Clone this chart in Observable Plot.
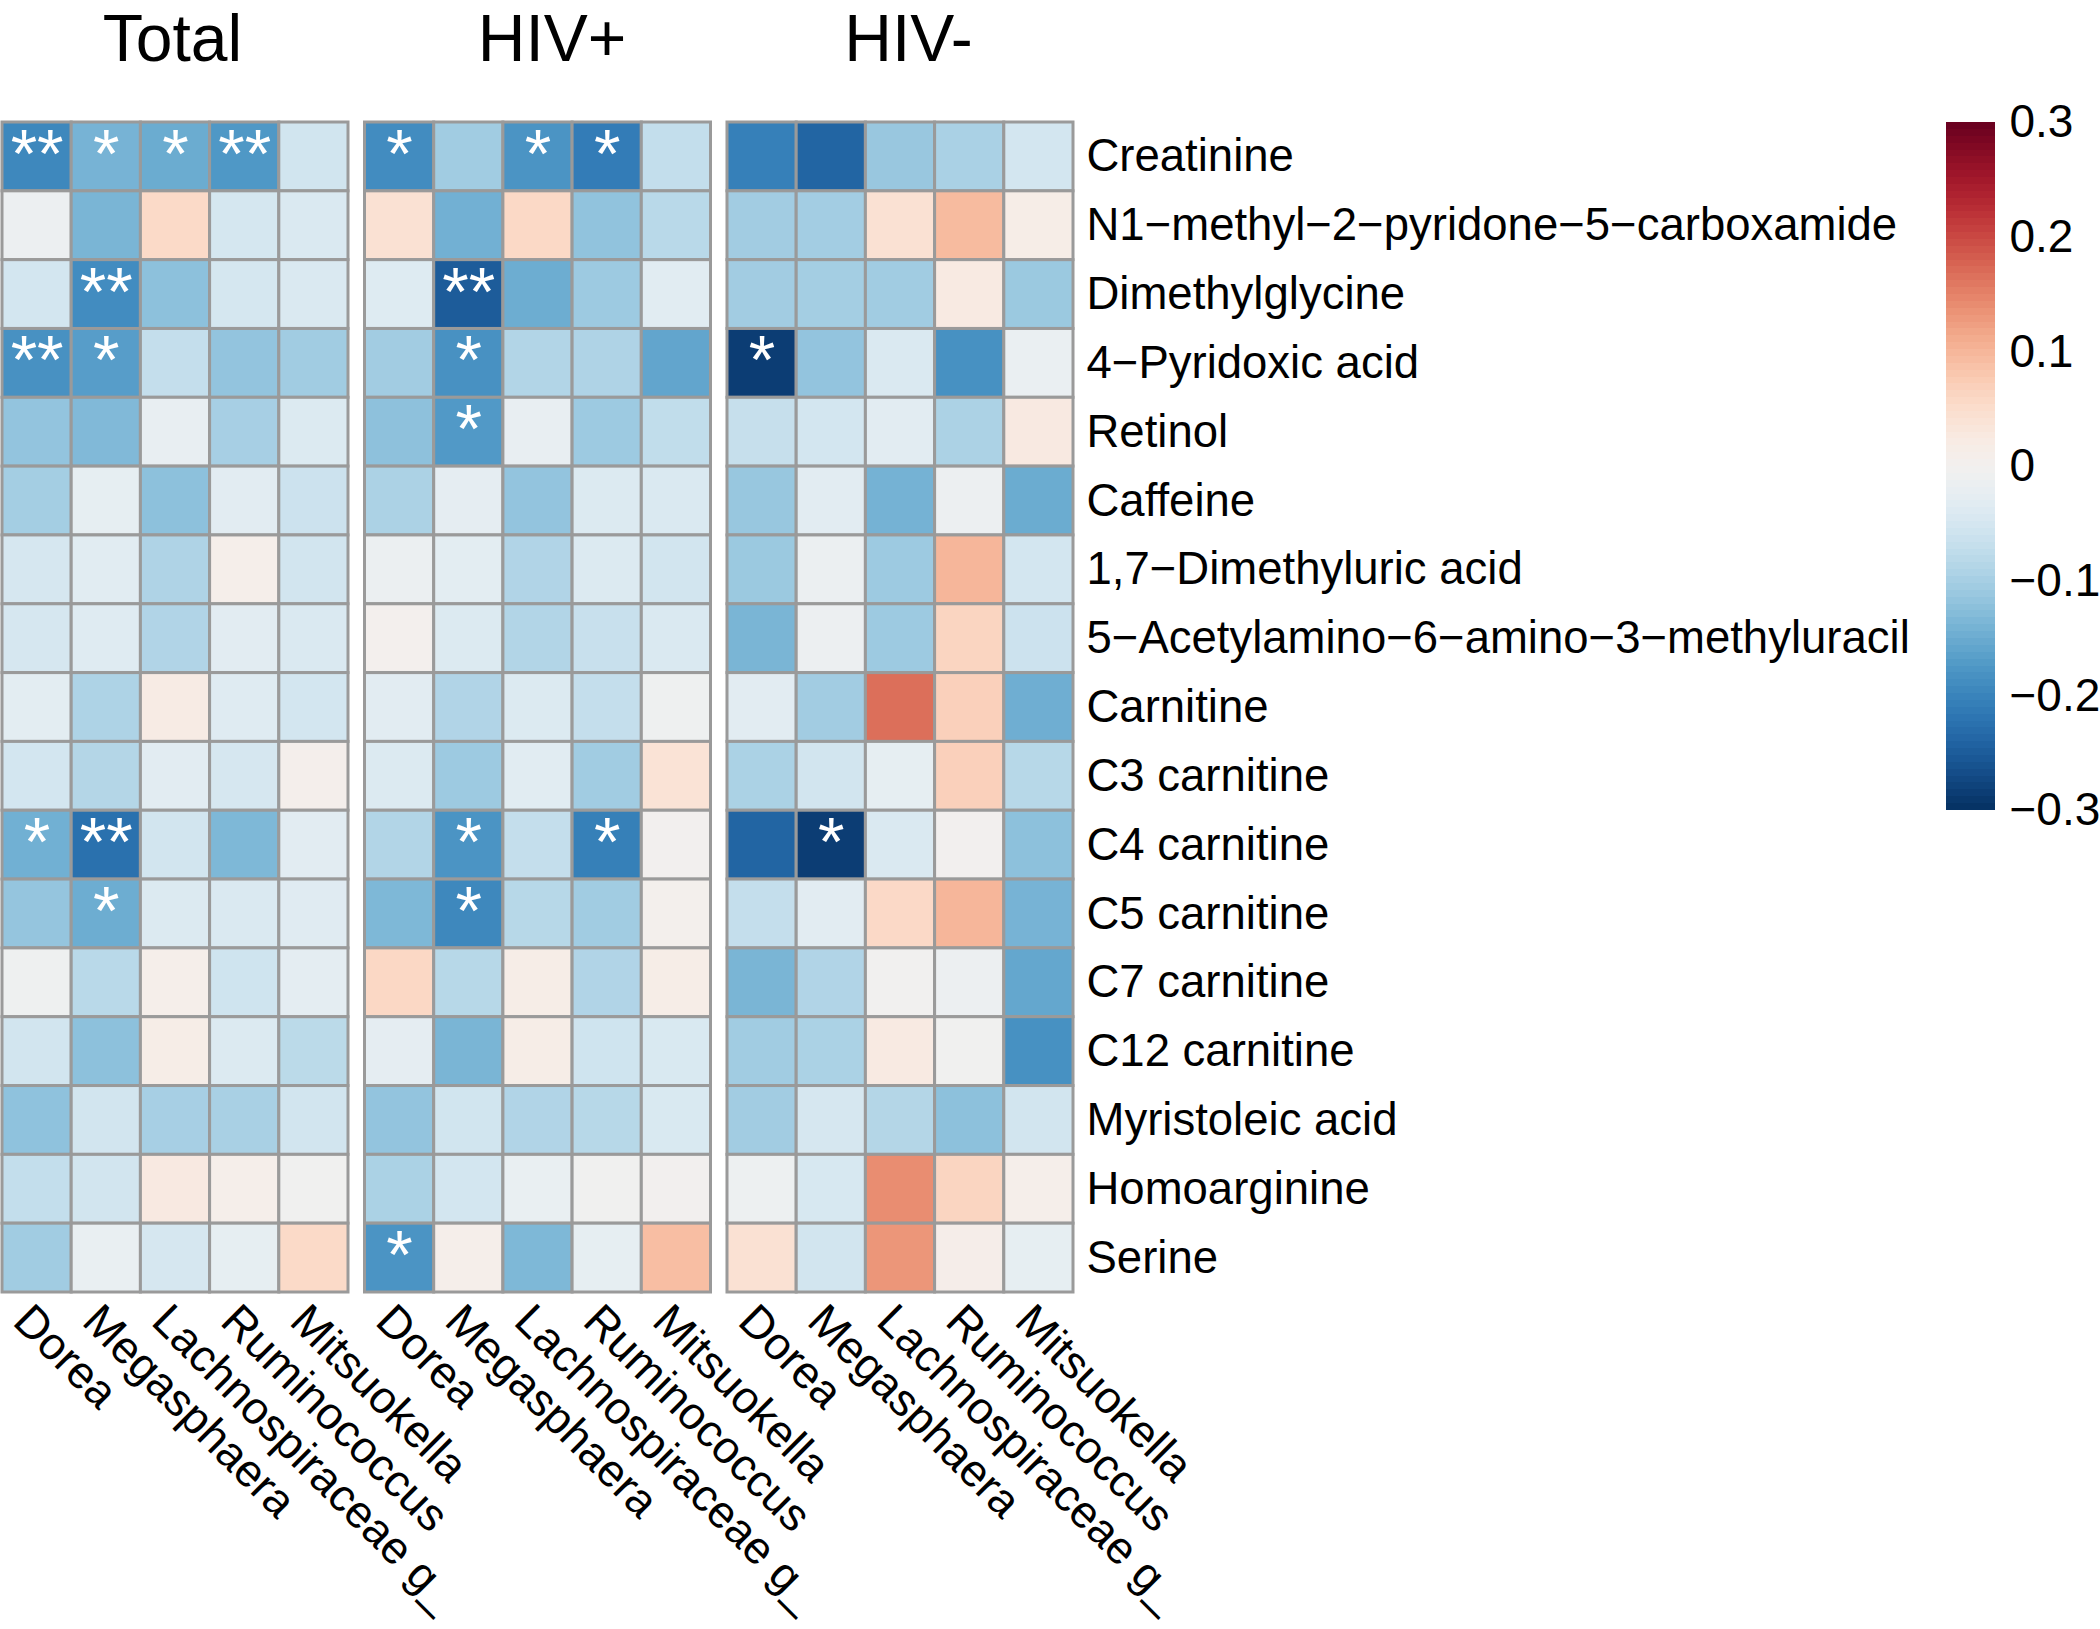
<!DOCTYPE html>
<html><head><meta charset="utf-8">
<script src="https://cdn.jsdelivr.net/npm/d3@7"></script>
<script src="https://cdn.jsdelivr.net/npm/@observablehq/plot@0.6"></script>
<style>
html,body{margin:0;padding:0;background:#fff;}
#wrap{position:relative;width:2100px;height:1629px;overflow:hidden;font-family:"Liberation Sans",Arial,Helvetica,sans-serif;}
#wrap svg{position:absolute;top:0;overflow:visible;}
</style></head><body><div id="wrap"></div>
<script>
const panels = ["Total", "HIV+", "HIV-"];
const genera = ["Dorea", "Megasphaera", "Lachnospiraceae g_", "Ruminococcus", "Mitsuokella"];
const metabolites = [
  "Creatinine", "N1\u2212methyl\u22122\u2212pyridone\u22125\u2212carboxamide", "Dimethylglycine",
  "4\u2212Pyridoxic acid", "Retinol", "Caffeine", "1,7\u2212Dimethyluric acid",
  "5\u2212Acetylamino\u22126\u2212amino\u22123\u2212methyluracil", "Carnitine", "C3 carnitine",
  "C4 carnitine", "C5 carnitine", "C7 carnitine", "C12 carnitine", "Myristoleic acid",
  "Homoarginine", "Serine"
];
// correlation values, rows = metabolites, columns = genera
const totalValues = [
  [-0.195, -0.14, -0.15, -0.175, -0.055],
  [-0.014, -0.138, 0.055, -0.05, -0.043],
  [-0.052, -0.19, -0.122, -0.05, -0.043],
  [-0.183, -0.168, -0.07, -0.117, -0.105],
  [-0.117, -0.132, -0.022, -0.099, -0.041],
  [-0.102, -0.024, -0.122, -0.032, -0.061],
  [-0.049, -0.033, -0.092, 0.01, -0.054],
  [-0.049, -0.036, -0.09, -0.032, -0.043],
  [-0.03, -0.093, 0.02, -0.036, -0.052],
  [-0.052, -0.087, -0.032, -0.049, 0.008],
  [-0.145, -0.225, -0.054, -0.134, -0.032],
  [-0.115, -0.148, -0.041, -0.043, -0.035],
  [-0.008, -0.082, 0.01, -0.057, -0.028],
  [-0.054, -0.122, 0.015, -0.041, -0.08],
  [-0.12, -0.054, -0.099, -0.097, -0.054],
  [-0.071, -0.054, 0.025, 0.01, -0.005],
  [-0.105, -0.02, -0.049, -0.024, 0.055]
];
const hivPosValues = [
  [-0.19, -0.105, -0.18, -0.21, -0.071],
  [0.043, -0.144, 0.057, -0.119, -0.082],
  [-0.038, -0.25, -0.148, -0.108, -0.033],
  [-0.104, -0.183, -0.089, -0.092, -0.158],
  [-0.121, -0.173, -0.022, -0.108, -0.073],
  [-0.094, -0.027, -0.117, -0.041, -0.043],
  [-0.016, -0.03, -0.09, -0.041, -0.054],
  [0.003, -0.041, -0.089, -0.066, -0.043],
  [-0.032, -0.09, -0.041, -0.07, -0.008],
  [-0.041, -0.108, -0.033, -0.105, 0.04],
  [-0.089, -0.18, -0.07, -0.206, 0.0],
  [-0.134, -0.195, -0.084, -0.105, 0.005],
  [0.058, -0.084, 0.015, -0.09, 0.015],
  [-0.027, -0.138, 0.015, -0.057, -0.044],
  [-0.117, -0.055, -0.09, -0.084, -0.044],
  [-0.095, -0.052, -0.02, -0.005, 0.0],
  [-0.18, 0.01, -0.134, -0.024, 0.091]
];
const hivNegValues = [
  [-0.205, -0.24, -0.112, -0.096, -0.052],
  [-0.104, -0.103, 0.043, 0.095, 0.015],
  [-0.104, -0.102, -0.105, 0.023, -0.11],
  [-0.285, -0.117, -0.043, -0.184, -0.017],
  [-0.068, -0.052, -0.032, -0.094, 0.025],
  [-0.113, -0.032, -0.142, -0.014, -0.15],
  [-0.11, -0.016, -0.108, 0.1, -0.052],
  [-0.138, -0.014, -0.108, 0.063, -0.061],
  [-0.032, -0.104, 0.167, 0.069, -0.147],
  [-0.095, -0.054, -0.024, 0.069, -0.084],
  [-0.24, -0.285, -0.043, 0.0, -0.122],
  [-0.07, -0.032, 0.056, 0.1, -0.14],
  [-0.138, -0.09, -0.003, -0.013, -0.156],
  [-0.105, -0.095, 0.023, -0.005, -0.184],
  [-0.104, -0.049, -0.087, -0.122, -0.054],
  [-0.011, -0.047, 0.14, 0.063, 0.01],
  [0.043, -0.054, 0.132, 0.012, -0.024]
];
// significance marks
const totalStars = [
  ["**", "*", "*", "**", ""], ["", "", "", "", ""], ["", "**", "", "", ""], ["**", "*", "", "", ""],
  ["", "", "", "", ""], ["", "", "", "", ""], ["", "", "", "", ""], ["", "", "", "", ""],
  ["", "", "", "", ""], ["", "", "", "", ""], ["*", "**", "", "", ""], ["", "*", "", "", ""],
  ["", "", "", "", ""], ["", "", "", "", ""], ["", "", "", "", ""], ["", "", "", "", ""], ["", "", "", "", ""]
];
const hivPosStars = [
  ["*", "", "*", "*", ""], ["", "", "", "", ""], ["", "**", "", "", ""], ["", "*", "", "", ""],
  ["", "*", "", "", ""], ["", "", "", "", ""], ["", "", "", "", ""], ["", "", "", "", ""],
  ["", "", "", "", ""], ["", "", "", "", ""], ["", "*", "", "*", ""], ["", "*", "", "", ""],
  ["", "", "", "", ""], ["", "", "", "", ""], ["", "", "", "", ""], ["", "", "", "", ""], ["*", "", "", "", ""]
];
const hivNegStars = [
  ["", "", "", "", ""], ["", "", "", "", ""], ["", "", "", "", ""], ["*", "", "", "", ""],
  ["", "", "", "", ""], ["", "", "", "", ""], ["", "", "", "", ""], ["", "", "", "", ""],
  ["", "", "", "", ""], ["", "", "", "", ""], ["", "*", "", "", ""], ["", "", "", "", ""],
  ["", "", "", "", ""], ["", "", "", "", ""], ["", "", "", "", ""], ["", "", "", "", ""], ["", "", "", "", ""]
];
const legendTicks = [-0.3, -0.2, -0.1, 0, 0.1, 0.2, 0.3];

const valueSets = [totalValues, hivPosValues, hivNegValues];
const starSets = [totalStars, hivPosStars, hivNegStars];
const records = [];
panels.forEach((p, pi) => metabolites.forEach((m, ri) => genera.forEach((g, ci) => {
  records.push({panel: p, metabolite: m, genus: g, value: valueSets[pi][ri][ci], star: starSets[pi][ri][ci]});
})));
const colLabels = panels.flatMap(p => genera.map(g => ({panel: p, genus: g})));

const FONT = '"Liberation Sans", Arial, Helvetica, sans-serif';
const colorScale = {type: "linear", scheme: "RdBu", reverse: true, domain: [-0.3, 0.3]};
const titleShift = [-3, 14, 8];

const main = Plot.plot({
  width: 1940, height: 1629,
  marginLeft: 2, marginRight: 867, marginTop: 122, marginBottom: 337,
  style: {fontFamily: FONT, fontSize: "46px", background: "transparent", color: "black"},
  fx: {domain: panels, padding: 0.0455, round: false, axis: null},
  x: {domain: genera, padding: 0, round: false, axis: null},
  y: {domain: metabolites, padding: 0, round: false, axis: null},
  color: colorScale,
  marks: [
    Plot.cell(records, {fx: "panel", x: "genus", y: "metabolite", fill: "value", stroke: "#9a9a9a", strokeWidth: 3, inset: 0}),
    Plot.text(records.filter(d => d.star), {fx: "panel", x: "genus", y: "metabolite", text: "star", fill: "white", fontSize: 68, lineAnchor: "bottom", dy: 20}),
    Plot.axisY({anchor: "right", tickSize: 0, tickPadding: 13, fontSize: 45.5, label: null, fill: "black"}),
    Plot.text(colLabels, {fx: "panel", x: "genus", text: "genus", frameAnchor: "bottom", rotate: 45, textAnchor: "start", lineAnchor: "top", dx: -3, dy: 8, fontSize: 45.5, fill: "black"}),
    ...panels.map((p, i) => Plot.text([p], {fx: d => d, text: d => d, frameAnchor: "top", lineAnchor: "bottom", dy: -62, dx: titleShift[i], fontSize: 66, fill: "black"}))
  ]
});
main.style.left = "0px";
document.getElementById("wrap").appendChild(main);

const stepSize = 0.006;
const steps = d3.range(100).map(i => -0.3 + i * stepSize);
const legend = Plot.plot({
  width: 160, height: 860,
  marginLeft: 6, marginRight: 105, marginTop: 122, marginBottom: 50,
  style: {fontFamily: FONT, fontSize: "46px", background: "transparent", color: "black"},
  x: {domain: [0, 1], axis: null},
  y: {domain: [-0.3, 0.3], axis: null},
  color: colorScale,
  marks: [
    Plot.rect(steps, {x1: 0, x2: 1, y1: d => d, y2: d => d + stepSize, fill: d => d + stepSize / 2, shapeRendering: "crispEdges"}),
    Plot.axisY({anchor: "right", ticks: legendTicks, tickSize: 0, tickPadding: 14, fontSize: 46, tickFormat: d3.format(""), label: null, fill: "black"})
  ]
});
legend.style.left = "1940px";
document.getElementById("wrap").appendChild(legend);
</script>
</body></html>
